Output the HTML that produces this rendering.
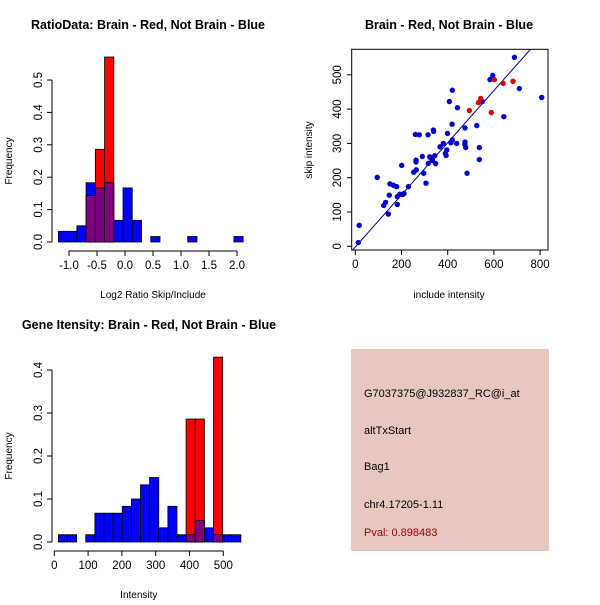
<!DOCTYPE html>
<html><head><meta charset="utf-8"><style>
body{margin:0;background:#fff}
svg text{font-family:"Liberation Sans",sans-serif}
</style></head><body>
<svg id="s" width="600" height="600" xmlns="http://www.w3.org/2000/svg">
<rect width="600" height="600" fill="#fff"/>
<text x="148" y="29" font-size="12.5" font-weight="bold" text-anchor="middle">RatioData: Brain - Red, Not Brain - Blue</text>
<text x="449" y="29" font-size="12.5" font-weight="bold" text-anchor="middle">Brain - Red, Not Brain - Blue</text>
<text x="149" y="329" font-size="12.5" font-weight="bold" text-anchor="middle">Gene Itensity: Brain - Red, Not Brain - Blue</text>
<g id="g1"></g>
<g id="g2"></g>
<g id="g3"></g>
<g>
<rect x="351" y="349" width="198" height="202" fill="#e6c8c0"/>
<text x="364" y="397" font-size="11">G7037375@J932837_RC@i_at</text>
<text x="364" y="434" font-size="11">altTxStart</text>
<text x="364" y="470" font-size="11">Bag1</text>
<text x="364" y="508" font-size="11">chr4.17205-1.11</text>
<text x="364" y="536" font-size="11" fill="#a00000">Pval: 0.898483</text>
</g>
</svg>
<script>
const NS="http://www.w3.org/2000/svg";
// Chart 1 data
const h1Start=-1.19, h1Width=0.165;
const h1Blue=[0.033,0.033,0.05,0.183,0.167,0.183,0.067,0.167,0.067,0,0.017,0,0,0,0.017,0,0,0,0,0.017];
const h1Red=[0,0,0,0.143,0.286,0.571,0,0,0,0,0,0,0,0,0,0,0,0,0,0];
const h1XTicks=[-1.0,-0.5,0.0,0.5,1.0,1.5,2.0];
const h1XLabels=["-1.0","-0.5","0.0","0.5","1.0","1.5","2.0"];
const h1YTicks=[0,0.1,0.2,0.3,0.4,0.5];
const h1YLabels=["0.0","0.1","0.2","0.3","0.4","0.5"];
// Chart 2 data
const h2Start=12, h2Width=27;
const h2Blue=[0.017,0.017,0,0.017,0.067,0.067,0.067,0.083,0.1,0.133,0.15,0.033,0.083,0.017,0.017,0.05,0.033,0.017,0.017,0.017];
const h2Red=[0,0,0,0,0,0,0,0,0,0,0,0,0,0,0.286,0.286,0,0.43,0,0];
const h2XTicks=[0,100,200,300,400,500];
const h2XLabels=["0","100","200","300","400","500"];
const h2YTicks=[0,0.1,0.2,0.3,0.4];
const h2YLabels=["0.0","0.1","0.2","0.3","0.4"];
// Chart 3 data
const blueX=[17,13,95,123,131,147,143,150,165,179,182,182,193,205,211,201,230,253,263,260,263,264,277,290,296,306,315,316,322,328,334,338,339,344,348,367,381,390,393,396,399,414,420,419,407,420,439,442,474,475,475,478,484,526,537,537,550,583,595,643,710,689,807];
const blueY=[61,11,201,119,128,149,94,182,178,174,145,122,152,151,154,236,174,216,251,326,246,223,325,262,213,184,325,242,261,256,250,339,335,264,241,290,300,271,265,281,329,302,310,356,422,455,300,404,297,345,304,288,213,352,253,288,422,486,498,378,460,551,434];
const redX=[494,533,543,602,589,640,683];
const redY=[396,419,431,486,390,475,481];
const lineIntercept=-2, lineSlope=0.76;
const scXTicks=[0,200,400,600,800];
const scYTicks=[0,100,200,300,400,500];

function el(parent,tag,attrs,name){const e=document.createElementNS(NS,tag);for(const k in attrs)e.setAttribute(k,attrs[k]);


parent.appendChild(e);return e;}
function txt(parent,x,y,s,name,extra){const t=el(parent,'text',Object.assign({x:x,y:y,'font-size':11.5,'text-anchor':'middle'},extra||{}),name);t.textContent=s;return t;}

function hist(g,cfg){
  const {start,width,blue,red,xs,ys,xt,xl,yt,yl,xAxisY,yAxisX,xTitle,xTitleY}=cfg;
  for(let i=0;i<blue.length;i++){
    const x0=xs(start+i*width),x1=xs(start+(i+1)*width);
    if(blue[i]>0) el(g,'rect',{x:x0,y:ys(blue[i]),width:x1-x0,height:ys(0)-ys(blue[i]),fill:'#0000ff',stroke:'#000','stroke-width':0.8},'blue-bar');
  }
  for(let i=0;i<red.length;i++){
    if(red[i]<=0)continue;
    const x0=xs(start+i*width),x1=xs(start+(i+1)*width);
    el(g,'rect',{x:x0,y:ys(red[i]),width:x1-x0,height:ys(0)-ys(red[i]),fill:'#ff0000',stroke:'#000','stroke-width':0.8},'red-bar');
    const m=Math.min(red[i],blue[i]);
    if(m>0) el(g,'rect',{x:x0,y:ys(m),width:x1-x0,height:ys(0)-ys(m),fill:'#800080',stroke:'#000','stroke-width':0.8},'overlap-bar');
  }
  el(g,'line',{x1:xs(xt[0]),x2:xs(xt[xt.length-1]),y1:xAxisY,y2:xAxisY,stroke:'#000'},'x-axis');
  xt.forEach((v,i)=>{el(g,'line',{x1:xs(v),x2:xs(v),y1:xAxisY,y2:xAxisY+5,stroke:'#000'},'x-tick');
    txt(g,xs(v),xAxisY+18,xl[i],'x-tick-label');});
  el(g,'line',{x1:yAxisX,x2:yAxisX,y1:ys(yt[0]),y2:ys(yt[yt.length-1]),stroke:'#000'},'y-axis');
  yt.forEach((v,i)=>{el(g,'line',{x1:yAxisX-5,x2:yAxisX,y1:ys(v),y2:ys(v),stroke:'#000'},'y-tick');
    txt(g,yAxisX-10,ys(v),yl[i],'y-tick-label',{transform:`rotate(-90 ${yAxisX-10} ${ys(v)})`});});
  txt(g,(xs(xt[0])+xs(xt[xt.length-1]))/2,xTitleY,xTitle,'x-axis-title',{'font-size':10});
  const my=(ys(yt[0])+ys(yt[yt.length-1]))/2;
  txt(g,12,my,'Frequency','y-axis-title',{'font-size':10,transform:`rotate(-90 12 ${my})`});
}
// chart 1
hist(document.getElementById('g1'),{start:h1Start,width:h1Width,blue:h1Blue,red:h1Red,
  xs:v=>69+(v+1)*56, ys:v=>242-v*324, xt:h1XTicks,xl:h1XLabels,yt:h1YTicks,yl:h1YLabels,
  xAxisY:251,yAxisX:52,xTitle:'Log2 Ratio Skip/Include',xTitleY:298});
// chart 2
hist(document.getElementById('g2'),{start:h2Start,width:h2Width,blue:h2Blue,red:h2Red,
  xs:v=>54.3+v*0.338, ys:v=>542-v*430, xt:h2XTicks,xl:h2XLabels,yt:h2YTicks,yl:h2YLabels,
  xAxisY:551,yAxisX:52,xTitle:'Intensity',xTitleY:598});
// chart 3
(function(){
  const g=document.getElementById('g3');
  const xs=v=>355.3+v*0.231, ys=v=>246.3-v*0.343;
  const cp=el(g,'clipPath',{id:'cp'},'clip');
  el(cp,'rect',{x:352,y:49,width:196,height:201},'clip-rect');
  el(g,'line',{x1:xs(-100),y1:ys(lineIntercept-100*lineSlope),x2:xs(900),y2:ys(lineIntercept+900*lineSlope),stroke:'#000080','clip-path':'url(#cp)'},'fit-line');
  blueX.forEach((x,i)=>el(g,'circle',{cx:xs(x),cy:ys(blueY[i]),r:2.7,fill:'#0000cc'},'blue-point'));
  redX.forEach((x,i)=>el(g,'circle',{cx:xs(x),cy:ys(redY[i]),r:2.7,fill:'#dd0000'},'red-point'));
  el(g,'rect',{x:351.7,y:49.3,width:196.3,height:200.7,fill:'none',stroke:'#000'},'plot-box');
  scXTicks.forEach(v=>{el(g,'line',{x1:xs(v),x2:xs(v),y1:250,y2:255,stroke:'#000'},'x-tick');
    txt(g,xs(v),268,String(v),'x-tick-label');});
  scYTicks.forEach(v=>{el(g,'line',{x1:347,x2:351.7,y1:ys(v),y2:ys(v),stroke:'#000'},'y-tick');
    txt(g,341,ys(v),String(v),'y-tick-label',{transform:`rotate(-90 341 ${ys(v)})`});});
  txt(g,449,298,'include intensity','x-axis-title',{'font-size':10});
  txt(g,312,150,'skip intensity','y-axis-title',{'font-size':10,transform:'rotate(-90 312 150)'});
})();
</script>
</body></html>
